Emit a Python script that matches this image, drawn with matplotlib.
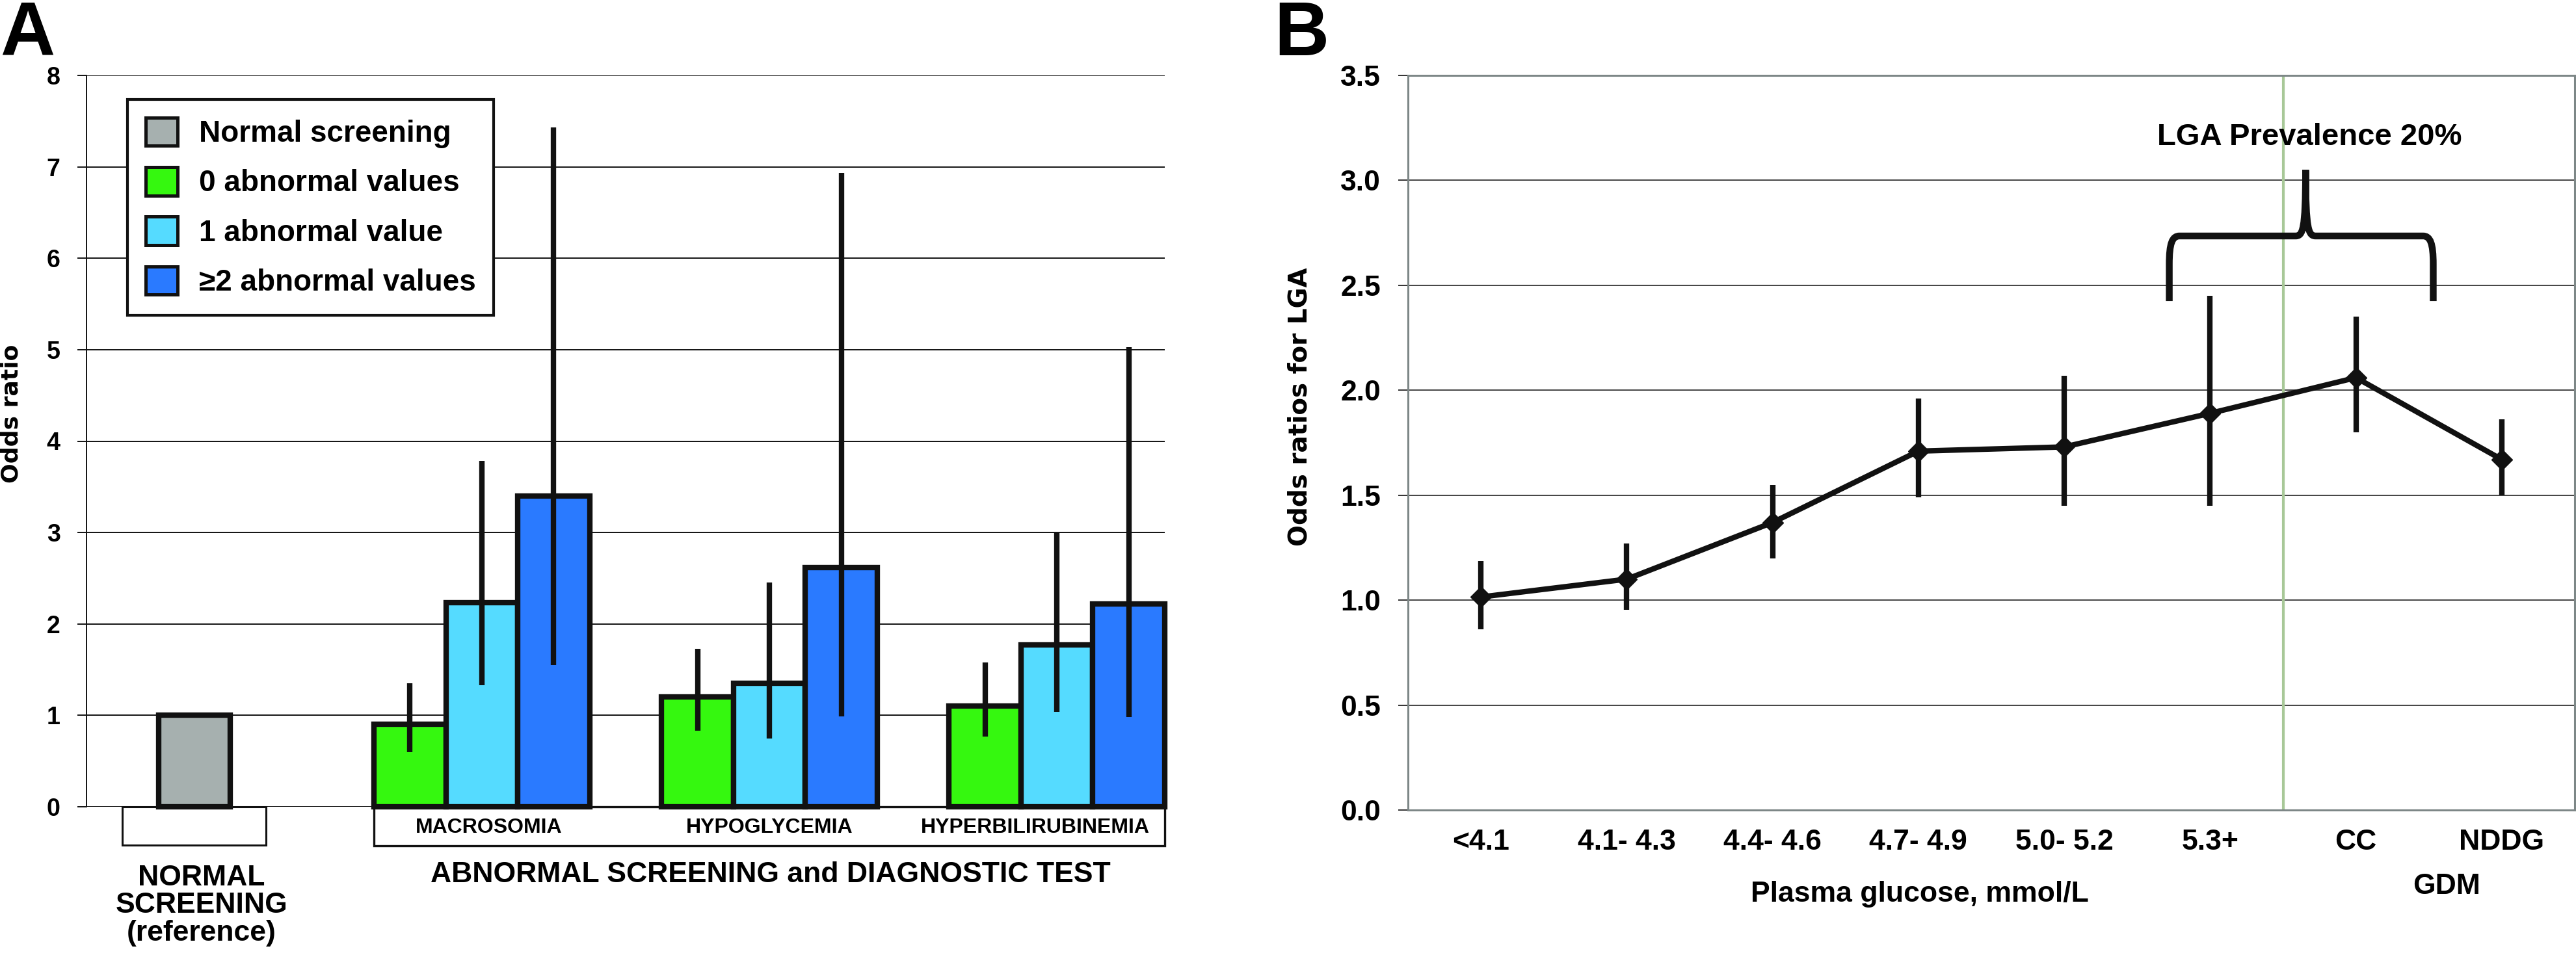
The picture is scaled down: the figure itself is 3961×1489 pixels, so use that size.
import numpy as np
import matplotlib.pyplot as plt
from matplotlib.patches import Rectangle, Patch, PathPatch
from matplotlib.path import Path

W, H = 3962, 1489

# ---- panel A data ----
groups = ['MACROSOMIA', 'HYPOGLYCEMIA', 'HYPERBILIRUBINEMIA']
series = ['Normal screening', '0 abnormal values', '1 abnormal value', '\u22652 abnormal values']
colors = ['#a6b0af', '#35f80f', '#55dbff', '#2a7aff']
ref_value = 1.0
or_a = [[0.90, 2.23, 3.40],
        [1.20, 1.35, 2.62],
        [1.10, 1.77, 2.22]]
lo_a = [[0.60, 1.33, 1.55],
        [0.83, 0.75, 0.99],
        [0.77, 1.04, 0.98]]
hi_a = [[1.35, 3.78, 7.43],
        [1.73, 2.45, 6.93],
        [1.58, 3.00, 5.03]]

# ---- panel B data ----
cats_b = ['<4.1', '4.1- 4.3', '4.4- 4.6', '4.7- 4.9', '5.0- 5.2', '5.3+', 'CC', 'NDDG']
or_b = [1.015, 1.10, 1.37, 1.71, 1.73, 1.89, 2.06, 1.67]
lo_b = [0.86, 0.955, 1.20, 1.49, 1.45, 1.45, 1.80, 1.50]
hi_b = [1.185, 1.27, 1.55, 1.96, 2.07, 2.45, 2.35, 1.86]

FONT = 'Liberation Sans'
WIDE = 'DejaVu Sans'
INK = '#111111'

fig = plt.figure(figsize=(W / 100, H / 100), dpi=100)


def px_axes(left, top, right, bottom):
    return fig.add_axes([left / W, 1 - bottom / H, (right - left) / W, (bottom - top) / H])


# ================= A =================
axA = px_axes(133, 116, 1791, 1241)
axA.set_xlim(0, 15)
axA.set_ylim(0, 8)
for s in ['top', 'right', 'bottom']:
    axA.spines[s].set_visible(False)
axA.spines['left'].set_linewidth(1.4)
axA.spines['left'].set_color(INK)
axA.set_xticks([])
axA.set_yticks(range(9))
axA.set_yticklabels([str(i) for i in range(9)], fontsize=27, fontweight='bold', family=FONT)
axA.tick_params(axis='y', length=10, width=1.4, pad=19, color=INK)
axA.yaxis.grid(True, color=INK, lw=1.4)
axA.set_axisbelow(True)

axA.bar([1.5], [ref_value], width=1, color=colors[0], edgecolor=INK, linewidth=6,
        clip_on=False, zorder=3)
for g in range(3):
    xs = [4.5 + 4 * g + j for j in range(3)]
    axA.bar(xs, or_a[g], width=1, color=colors[1:], edgecolor=INK, linewidth=6,
            clip_on=False, zorder=3)
    yerr = [np.array(or_a[g]) - np.array(lo_a[g]), np.array(hi_a[g]) - np.array(or_a[g])]
    axA.errorbar(xs, or_a[g], yerr=yerr, fmt='none', ecolor=INK, elinewidth=6,
                 capsize=0, zorder=4)

handles = [Patch(facecolor=c, edgecolor=INK, linewidth=3.6) for c in colors]
leg = axA.legend(handles, series, loc='upper left', bbox_to_anchor=(0.038, 0.967),
                 prop={'family': FONT, 'weight': 'bold', 'size': 33},
                 fancybox=False, edgecolor=INK, framealpha=1,
                 handlelength=1.09, handleheight=1.09, labelspacing=0.63,
                 handletextpad=0.7, borderpad=0.6, borderaxespad=0)
leg.get_frame().set_linewidth(3)

# boxes under the axis
axA.add_patch(Rectangle((0.5, -0.42), 2.0, 0.42, fill=False, ec=INK, lw=2.2, clip_on=False))
axA.add_patch(Rectangle((4.0, -0.43), 11.0, 0.43, fill=False, ec=INK, lw=2.4, clip_on=False))
for x, name in zip([5.6, 9.5, 13.2], groups):
    axA.text(x, -0.23, name, ha='center', va='center', fontsize=23, fontweight='bold',
             family=FONT)
axA.text(1.6, -0.63, 'NORMAL\nSCREENING\n(reference)', ha='center', va='top',
         fontsize=32, fontweight='bold', family=FONT, linespacing=1.05)
axA.text(9.52, -0.6, 'ABNORMAL SCREENING and DIAGNOSTIC TEST', ha='center', va='top',
         fontsize=32, fontweight='bold', family=FONT)

fig.text(18 / W, 1 - 636 / H, 'Odds ratio', rotation=90, ha='center', va='center',
         fontsize=26, fontweight='bold', family=WIDE)
fig.text(0, 1 - 85 / H, 'A', ha='left', va='baseline', fontsize=84, fontweight='bold',
         family=FONT)

# ================= B =================
axB = px_axes(2165, 116, 3959, 1246)
axB.set_xlim(-0.5, 7.5)
axB.set_ylim(0, 3.5)
for s in axB.spines.values():
    s.set_color('#7d8787')
    s.set_linewidth(2.2)
yt = np.arange(0, 3.51, 0.5)
axB.set_yticks(yt)
axB.set_yticklabels(['%.1f' % v for v in yt], fontsize=32, fontweight='bold', family=FONT)
axB.tick_params(axis='y', length=11, width=1.2, pad=19, color=INK)
xb = np.arange(len(cats_b))
axB.set_xticks(xb)
axB.set_xticklabels(cats_b, fontsize=32, fontweight='bold', family=FONT)
axB.tick_params(axis='x', length=0, pad=21)
axB.yaxis.grid(True, color=INK, lw=1.1)
axB.set_axisbelow(True)

axB.axvline(5.5, color='#a8c898', lw=3, zorder=1.5)

yerr_b = [np.array(or_b) - np.array(lo_b), np.array(hi_b) - np.array(or_b)]
axB.errorbar(xb, or_b, yerr=yerr_b, fmt='-D', color=INK, lw=6, ms=16,
             elinewidth=6, capsize=0, zorder=4)

# curly brace over 5.3+ .. CC
bl, br, tip = 4.72, 6.53, 5.655
yb, yh, yt_ = 2.425, 2.735, 3.05
verts = [(bl, yb), (bl, 2.60), (bl, 2.70), (bl + 0.02, yh), (bl + 0.07, yh),
         (tip - 0.07, yh), (tip - 0.02, yh), (tip, 2.76), (tip, yt_),
         (br, yb), (br, 2.60), (br, 2.70), (br - 0.02, yh), (br - 0.07, yh),
         (tip + 0.07, yh), (tip + 0.02, yh), (tip, 2.76), (tip, yt_)]
codes = [Path.MOVETO, Path.LINETO, Path.CURVE4, Path.CURVE4, Path.CURVE4,
         Path.LINETO, Path.CURVE4, Path.CURVE4, Path.CURVE4] * 2
axB.add_patch(PathPatch(Path(verts, codes), fill=False, ec=INK, lw=7.5,
                        capstyle='butt', joinstyle='round', zorder=5))
axB.text(5.68, 3.17, 'LGA Prevalence 20%', ha='center', va='baseline', fontsize=34,
         fontweight='bold', family=FONT)

axB.text(3.01, -0.337, 'Plasma glucose, mmol/L', ha='center', va='top', fontsize=32,
         fontweight='bold', family=FONT)
axB.text(6.62, -0.30, 'GDM', ha='center', va='top', fontsize=32, fontweight='bold',
         family=FONT)

fig.text(1998 / W, 1 - 626 / H, 'Odds ratios for LGA', rotation=90, ha='center',
         va='center', fontsize=28, fontweight='bold', family=WIDE)
fig.text(1959 / W, 1 - 85 / H, 'B', ha='left', va='baseline', fontsize=84,
         fontweight='bold', family=FONT)

fig.savefig('out.png', dpi=100)
